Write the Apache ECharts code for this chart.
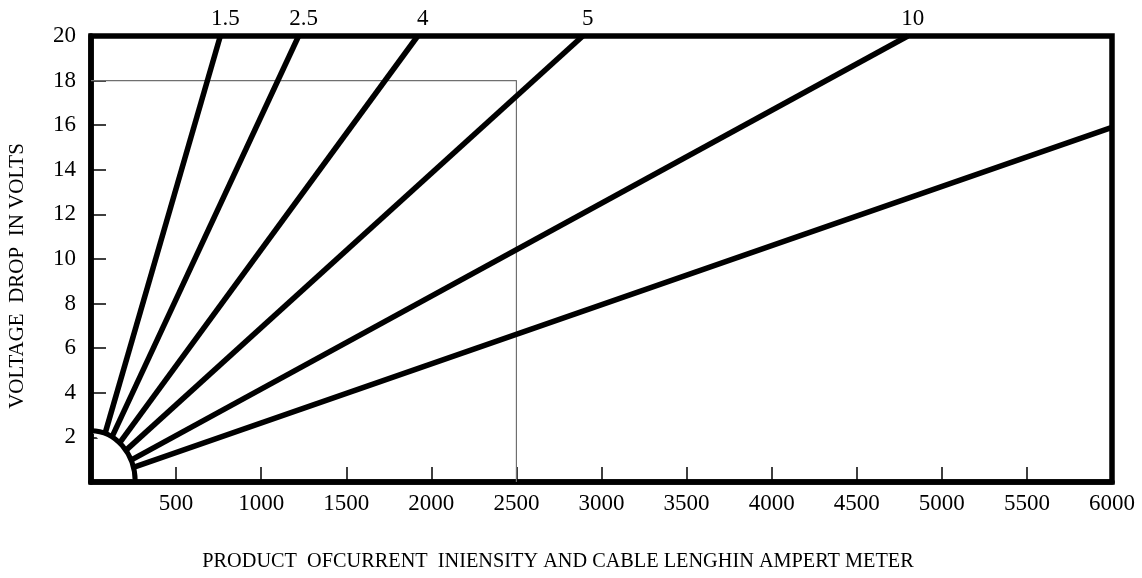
<!DOCTYPE html>
<html>
<head>
<meta charset="utf-8">
<title>Voltage drop chart</title>
<script src="https://cdn.jsdelivr.net/npm/echarts@6/dist/echarts.min.js"></script>
<style>
  html, body { margin: 0; padding: 0; background: #fff; }
  #chart { width: 1142px; height: 578px; }
</style>
</head>
<body>
<div id="chart"></div>
<script>
// Cable cross-sections (mm²) shown as labels at the top of each line;
// the last line has no label.
const sectionLabels = ['1.5', '2.5', '4', '5', '10', ''];
// Where each line leaves the chart: product I·L (A·m) and voltage drop (V)
const endIL = [760, 1220, 1920, 2890, 4800, 6000];
const endVolts = [20, 20, 20, 20, 20, 15.9];
// Quarter arc around the origin (radii in axis units: A·m, V)
const arcRadiusIL = 260;
const arcRadiusV = 2.3;
// Reading example: 18 V at 2500 A·m
const guideIL = 2500;
const guideVolts = 18;
// Axis ranges and steps
const xMax = 6000, xStep = 500;
const yMax = 20, yStep = 2;

const serif = '"Liberation Serif", "Times New Roman", serif';

// Each line starts where it meets the arc and runs straight to its end point.
function startOnArc(x, y) {
  const t = 1 / Math.sqrt(Math.pow(x / arcRadiusIL, 2) + Math.pow(y / arcRadiusV, 2));
  return [x * t, y * t];
}

const sectionSeries = endIL.map((x, i) => ({
  type: 'line',
  name: sectionLabels[i],
  data: [startOnArc(x, endVolts[i]), [x, endVolts[i]]],
  showSymbol: false,
  symbol: 'none',
  z: 3,
  lineStyle: { color: '#000', width: 5.5, cap: 'butt' },
  endLabel: {
    show: sectionLabels[i] !== '',
    formatter: p => p.seriesName,
    align: 'center',
    verticalAlign: 'bottom',
    distance: 0,
    offset: [5, -6],
    color: '#000',
    fontFamily: serif,
    fontSize: 23
  },
  emphasis: { disabled: true }
}));

const guideSeries = {
  type: 'line',
  name: 'guide',
  data: [[0, guideVolts], [guideIL, guideVolts], [guideIL, 0]],
  showSymbol: false,
  symbol: 'none',
  z: 2,
  lineStyle: { color: '#6f6f6f', width: 1.2 },
  emphasis: { disabled: true }
};

const arcSeries = {
  type: 'custom',
  name: 'arc',
  z: 4,
  data: [[0, 0]],
  renderItem: (params, api) => {
    const c = api.coord([0, 0]);
    const s = api.size([arcRadiusIL, arcRadiusV]);
    const rx = s[0], ry = s[1];
    const d = 'M ' + c[0] + ' ' + (c[1] - ry) +
              ' A ' + rx + ' ' + ry + ' 0 0 1 ' + (c[0] + rx) + ' ' + c[1];
    return {
      type: 'path',
      shape: { pathData: d },
      style: { stroke: '#000', lineWidth: 5, fill: '#fff' }
    };
  }
};

const chart = echarts.init(document.getElementById('chart'), null, { renderer: 'canvas' });
chart.setOption({
  animation: false,
  backgroundColor: '#fff',
  grid: {
    left: 91, right: 30, top: 36, bottom: 96,
    show: true, borderColor: '#000', borderWidth: 5.5, backgroundColor: 'transparent'
  },
  xAxis: {
    type: 'value',
    min: 0, max: xMax, interval: xStep,
    axisLine: { show: true, lineStyle: { color: '#000', width: 5.5 } },
    axisTick: { show: true, inside: true, length: 15, lineStyle: { color: '#000', width: 1.5 } },
    axisLabel: {
      margin: 10, color: '#000', fontFamily: serif, fontSize: 23,
      formatter: v => (v === 0 ? '' : String(v))
    },
    splitLine: { show: false }
  },
  yAxis: {
    type: 'value',
    min: 0, max: yMax, interval: yStep,
    axisLine: { show: true, lineStyle: { color: '#000', width: 5.5 } },
    axisTick: { show: true, inside: true, length: 15, lineStyle: { color: '#000', width: 1.5 } },
    axisLabel: {
      margin: 15, color: '#000', fontFamily: serif, fontSize: 23,
      formatter: v => (v === 0 ? '' : String(v))
    },
    splitLine: { show: false }
  },
  graphic: [
    {
      type: 'text',
      x: 17, y: 276,
      rotation: Math.PI / 2,
      style: {
        text: 'VOLTAGE  DROP  IN VOLTS',
        fontFamily: serif, fontSize: 21, fill: '#000',
        align: 'center', verticalAlign: 'middle'
      }
    },
    {
      type: 'text',
      x: 558, y: 562,
      style: {
        text: 'PRODUCT  OFCURRENT  INIENSITY AND CABLE LENGHIN AMPERT METER',
        fontFamily: serif, fontSize: 20.3, fill: '#000',
        align: 'center', verticalAlign: 'middle'
      }
    }
  ],
  series: [guideSeries].concat(sectionSeries, [arcSeries])
});
</script>
</body>
</html>
